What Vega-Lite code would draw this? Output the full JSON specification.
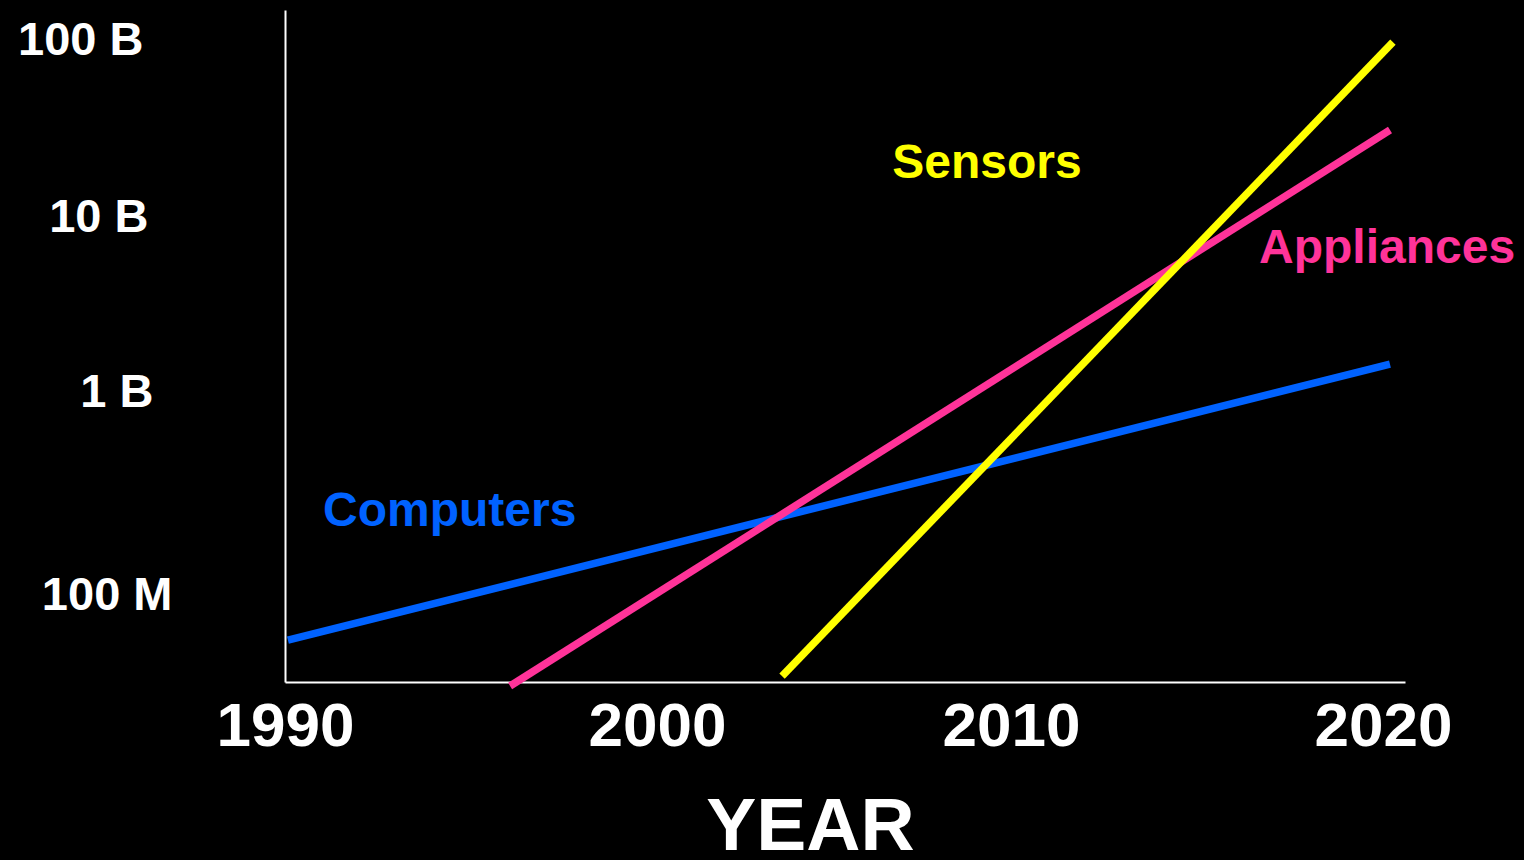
{
  "$schema": "https://vega.github.io/schema/vega-lite/v6.json",
  "autosize": "none",
  "width": 1120,
  "height": 672,
  "padding": {"left": 285, "top": 10, "right": 119, "bottom": 178},
  "background": "#000000",
  "config": {
    "view": {"stroke": null},
    "font": "Liberation Sans"
  },
  "datasets": {
    "lines": [
      {"series": "Computers", "year": 1990.08, "devices": 5.15e7},
      {"series": "Computers", "year": 2020.19, "devices": 1.63e9},
      {"series": "Appliances", "year": 1996.15, "devices": 2.9e7},
      {"series": "Appliances", "year": 2020.19, "devices": 3.05e10},
      {"series": "Sensors", "year": 2003.58, "devices": 3.28e7},
      {"series": "Sensors", "year": 2020.27, "devices": 9.16e10}
    ],
    "labels": [
      {"series": "Computers", "year": 1994.5, "devices": 2.55e8},
      {"series": "Sensors", "year": 2009.18, "devices": 2.0e10},
      {"series": "Appliances", "year": 2020.11, "devices": 6.9e9}
    ]
  },
  "layer": [
    {
      "data": {"name": "lines"},
      "mark": {"type": "line", "strokeWidth": 7.5, "clip": false},
      "encoding": {
        "x": {
          "field": "year", "type": "quantitative",
          "scale": {"domain": [1990, 2020.6], "nice": false, "zero": false},
          "axis": {
            "values": [1990, 2000, 2010, 2020],
            "format": "d",
            "title": "YEAR",
            "domainColor": "#ffffff",
            "domainWidth": 2,
            "ticks": false,
            "grid": false,
            "labelColor": "#ffffff",
            "labelFont": "Liberation Sans",
            "labelFontWeight": "bold",
            "labelFontSize": 62,
            "labelPadding": 14,
            "labelOffset": {"condition": [
              {"test": "datum.value == 2000", "value": 6},
              {"test": "datum.value == 2010", "value": -6}
            ], "value": 0},
            "labelFlush": false,
            "labelOverlap": false,
            "titleColor": "#ffffff",
            "titleFont": "Liberation Sans",
            "titleFontWeight": "bold",
            "titleFontSize": 75,
            "titleX": 525,
            "titleY": 167,
            "titleBaseline": "alphabetic",
            "titleAlign": "center"
          }
        },
        "y": {
          "field": "devices", "type": "quantitative",
          "scale": {"type": "log", "domain": [3.05e7, 1.37e11], "nice": false},
          "axis": {
            "values": [1e8, 1e9, 1e10, 1e11],
            "labelExpr": "datum.value >= 1e11 ? '100 B' : datum.value >= 1e10 ? '10 B' : datum.value >= 1e9 ? '1 B' : '100 M'",
            "title": null,
            "domainColor": "#ffffff",
            "domainWidth": 2,
            "ticks": false,
            "grid": false,
            "labelColor": "#ffffff",
            "labelFontWeight": "bold",
            "labelFontSize": 47,
            "labelAlign": "right",
            "labelBaseline": "middle",
            "labelPadding": {"condition": [
              {"test": "datum.value >= 1e11", "value": 142},
              {"test": "datum.value >= 1e10", "value": 137},
              {"test": "datum.value >= 1e9", "value": 132}
            ], "value": 113},
            "labelOffset": {"condition": [
              {"test": "datum.value >= 1e11", "value": 5},
              {"test": "datum.value >= 1e10", "value": -2},
              {"test": "datum.value >= 1e9", "value": -11}
            ], "value": 8},
            "labelFlush": false,
            "labelOverlap": false
          }
        },
        "color": {
          "field": "series", "type": "nominal",
          "scale": {"domain": ["Computers", "Appliances", "Sensors"], "range": ["#0062ff", "#ff3399", "#ffff00"]},
          "legend": null
        },
        "detail": {"field": "series"}
      }
    },
    {
      "data": {"name": "labels"},
      "mark": {"type": "text", "fontSize": 48, "fontWeight": "bold", "font": "Liberation Sans", "align": "center", "baseline": "middle"},
      "encoding": {
        "x": {"field": "year", "type": "quantitative"},
        "y": {"field": "devices", "type": "quantitative"},
        "text": {"field": "series"},
        "color": {"field": "series", "type": "nominal", "legend": null}
      }
    }
  ]
}
